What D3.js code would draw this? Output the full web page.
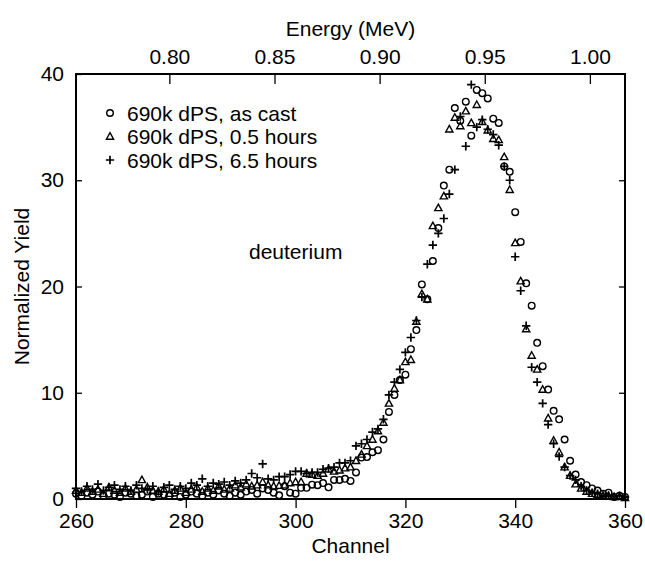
<!DOCTYPE html>
<html>
<head>
<meta charset="utf-8">
<script src="https://cdn.jsdelivr.net/npm/d3@7"></script>
<style>
  body { margin: 0; background: #fff; }
  svg { font-family: "Liberation Sans", Arial, sans-serif; }
</style>
</head>
<body>
<svg id="chart"></svg>
<script>
// channels 260..360, one value per channel
const channels = d3.range(260, 361);

const asCast = [
    0.5, 0.3, 0.6, 0.4, 0.7, 0.3, 0.5, 0.4, 0.2, 0.6,
    0.5, 0.3, 0.4, 0.7, 0.2, 0.5, 0.4, 0.3, 0.6, 0.2,
    0.4, 0.7, 0.5, 0.3, 0.6, 0.4, 0.8, 0.5, 0.3, 0.6,
    0.4, 0.7, 0.85, 0.5, 1.0, 0.85, 0.6, 0.35, 1.2, 0.6,
    0.5, 1.05, 1.05, 1.35, 1.3, 1.5, 1.1, 1.8, 1.8, 1.9,
    1.7, 2.5, 3.9, 3.95, 4.4, 4.6, 5.6, 8.2, 9.8, 11.2,
    11.7, 14.1, 15.9, 20.2, 18.8, 22.4, 25.5, 29.5, 31.0, 36.8,
    35.6, 37.4, 34.2, 38.5, 38.2, 37.7, 35.8, 35.4, 31.3, 30.8,
    27.0, 24.2, 20.3, 18.2, 14.7, 12.5, 10.3, 8.3, 7.5, 5.6,
    3.6, 2.3, 1.6, 1.3, 1.0, 0.8, 0.5, 0.6, 0.2, 0.3, 0.2
];

const halfHour = [
    0.8, 0.6, 1.0, 0.7, 0.9, 0.5, 1.1, 0.8, 0.6, 1.0,
    0.7, 0.9, 1.8, 1.1, 0.8, 0.7, 0.9, 0.5, 0.8, 1.0,
    0.6, 0.9, 1.1, 0.7, 1.0, 0.8, 1.2, 0.9, 1.0, 1.3,
    1.1, 1.4, 1.2, 1.3, 1.6, 1.3, 1.2, 1.25, 1.3, 1.5,
    1.6, 1.6, 2.4, 2.3, 2.2, 2.4, 2.8, 2.6, 2.7, 2.9,
    3.0, 3.6, 4.2, 5.0, 5.6, 6.4, 7.2, 9.0, 10.4, 11.2,
    12.9, 13.1, 16.7, 19.3, 18.8, 25.7, 27.4, 28.5, 34.8, 35.9,
    35.1, 36.5, 35.4, 37.1, 35.5, 34.7, 33.9, 33.8, 32.2, 29.1,
    24.1, 20.5, 16.0, 13.5, 12.2, 10.3, 7.6, 5.5, 4.4, 3.0,
    2.2, 1.4, 1.0, 0.7, 0.5, 0.4, 0.3, 0.3, 0.2, 0.2, 0.1
];

const sixHour = [
    1.0, 0.7, 1.2, 0.9, 1.4, 0.8, 1.1, 1.3, 0.9, 1.2,
    0.8, 1.3, 1.0, 0.9, 1.2, 0.7, 1.1, 1.3, 0.9, 1.2,
    1.0, 1.5, 1.3, 1.9, 1.2, 1.5, 1.4, 1.6, 1.3, 1.7,
    1.5, 1.8, 2.4, 2.0, 3.3, 1.9, 1.8, 2.1, 2.1, 2.3,
    2.6, 2.6, 2.4, 2.5, 2.5, 2.8, 2.9, 3.0, 3.4, 3.4,
    3.6, 5.0, 5.2, 5.6, 6.3, 6.6, 7.5, 9.8, 11.0, 12.2,
    13.8, 15.2, 16.8, 19.0, 22.1, 23.9, 25.0, 26.4, 28.7, 31.0,
    36.0, 33.2, 39.0, 35.0, 35.7, 34.8, 34.3, 33.3, 31.3, 30.0,
    22.8, 19.6, 16.3, 12.4, 11.0, 9.0, 7.0, 5.2, 4.0, 3.0,
    2.2, 1.8, 1.2, 0.8, 0.6, 0.5, 0.3, 0.3, 0.2, 0.3, 0.2
];

const seriesNames = ['690k dPS, as cast', '690k dPS, 0.5 hours', '690k dPS, 6.5 hours'];
const seriesShapes = ['circle', 'triangle', 'plus'];
const channelTicks = [260, 280, 300, 320, 340, 360];
const yieldTicks = [0, 10, 20, 30, 40];
const energyTicks = [0.80, 0.85, 0.90, 0.95, 1.00];
const energyRange = [0.7556, 1.0167]; // energy at channel 260 and 360

let w = 645;
let h = 562;
const margin = {top: 74, right: 20, bottom: 63, left: 76};
const pw = w - margin.left - margin.right;
const ph = h - margin.top - margin.bottom;
const fontSize = '21px';

const svg = d3.select('#chart')
    .attr('width', w)
    .attr('height', h);

const xScale = d3.scaleLinear().domain([260, 360]).range([0, pw]);
const yScale = d3.scaleLinear().domain([0, 40]).range([ph, 0]);
const eScale = d3.scaleLinear().domain(energyRange).range([0, pw]);

const g = svg.append('g')
    .attr('transform', `translate(${margin.left},${margin.top})`);

// axes
const xAxis = d3.axisBottom(xScale).tickValues(channelTicks).tickSizeInner(9).tickSizeOuter(0).tickPadding(5);
const yAxis = d3.axisLeft(yScale).tickValues(yieldTicks).tickSizeInner(-6).tickSizeOuter(0).tickPadding(12);
const eAxis = d3.axisTop(eScale).tickValues(energyTicks).tickFormat(d3.format('.2f'))
    .tickSizeInner(-10).tickSizeOuter(0).tickPadding(10);
const rAxis = d3.axisRight(yScale).tickValues([10, 20, 30]).tickSizeInner(-6).tickSizeOuter(0).tickFormat('');

const styleAxis = sel => {
    sel.select('.domain').remove();
    sel.selectAll('line').attr('stroke', '#000').attr('stroke-width', 1.3);
    sel.selectAll('text').attr('fill', '#000').style('font-size', fontSize);
};

g.append('g').attr('transform', `translate(0,${ph})`).call(xAxis).call(styleAxis);
g.append('g').call(yAxis).call(styleAxis);
g.append('g').call(eAxis).call(styleAxis);
g.append('g').attr('transform', `translate(${pw},0)`).call(rAxis).call(styleAxis);

g.append('rect')
    .attr('width', pw)
    .attr('height', ph)
    .attr('fill', 'none')
    .attr('stroke', '#000')
    .attr('stroke-width', 2);

// axis titles
svg.append('text')
    .attr('x', margin.left + pw / 2)
    .attr('y', 36)
    .attr('text-anchor', 'middle')
    .style('font-size', fontSize)
    .text('Energy (MeV)');

svg.append('text')
    .attr('x', margin.left + pw / 2)
    .attr('y', 553)
    .attr('text-anchor', 'middle')
    .style('font-size', fontSize)
    .text('Channel');

svg.append('text')
    .attr('transform', `translate(29,${margin.top + ph / 2}) rotate(-90)`)
    .attr('text-anchor', 'middle')
    .style('font-size', fontSize)
    .text('Normalized Yield');

// markers
const drawMarker = (sel, shape) => {
    if (shape === 'circle') {
        sel.append('circle').attr('r', 3.3)
            .attr('fill', 'none').attr('stroke', '#000').attr('stroke-width', 1.4);
    } else if (shape === 'triangle') {
        sel.append('path').attr('d', 'M0,-3.8L3.6,2.7L-3.6,2.7Z')
            .attr('fill', 'none').attr('stroke', '#000').attr('stroke-width', 1.4);
    } else {
        sel.append('path').attr('d', 'M-4.2,0H4.2M0,-4.2V4.2')
            .attr('fill', 'none').attr('stroke', '#000').attr('stroke-width', 1.7);
    }
};

const allSeries = [asCast, halfHour, sixHour];
allSeries.forEach((values, i) => {
    const pts = channels.map((c, j) => ({c: c, v: values[j]}));
    g.append('g').selectAll('g')
        .data(pts)
        .join('g')
        .attr('transform', d => `translate(${xScale(d.c)},${yScale(d.v)})`)
        .each(function() { drawMarker(d3.select(this), seriesShapes[i]); });
});

// legend
const legend = svg.append('g').attr('transform', 'translate(110,113)');
seriesNames.forEach((name, i) => {
    const row = legend.append('g').attr('transform', `translate(0,${i * 23.5})`);
    drawMarker(row, seriesShapes[i]);
    row.append('text')
        .attr('x', 17)
        .attr('dy', '0.36em')
        .style('font-size', fontSize)
        .text(name);
});

svg.append('text')
    .attr('x', 249)
    .attr('y', 259)
    .style('font-size', fontSize)
    .text('deuterium');
</script>
</body>
</html>
